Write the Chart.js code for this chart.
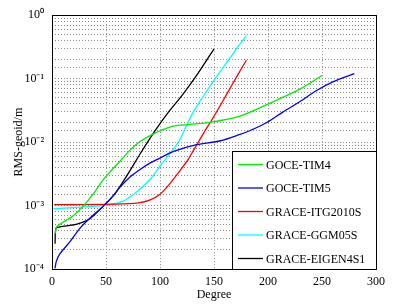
<!DOCTYPE html>
<html>
<head>
<meta charset="utf-8">
<script src="https://cdn.jsdelivr.net/npm/chart.js@4.4.0/dist/chart.umd.min.js"></script>
<style>
  html, body { margin: 0; padding: 0; background: #fff; }
  #wrap { width: 404px; height: 306px; }
</style>
</head>
<body>
<div id="wrap"><canvas id="grafico"></canvas></div>
<script>
// valores (grado, RMS en m)
const tim4Grado = [3, 4.3, 10.5, 19.7, 29, 38, 49, 63, 72, 81.5, 94, 112, 128, 146, 174, 199, 215, 230, 250];
const tim4Rms = [3.6e-4, 4.6e-4, 5.5e-4, 6.9e-4, 9.8e-4, 1.51e-3, 2.75e-3, 5.0e-3, 7.4e-3, 1.02e-2, 1.35e-2, 1.78e-2, 1.9e-2, 2.04e-2, 2.57e-2, 3.9e-2, 5.2e-2, 6.9e-2, 0.112];

const tim5Grado = [2.8, 4, 7.4, 16.7, 26, 35, 47.5, 57, 63, 72, 81.5, 91, 100, 112, 134, 156, 174, 183, 199, 214, 230, 245, 260, 280];
const tim5Rms = [1.02e-4, 1.32e-4, 1.74e-4, 2.7e-4, 4.4e-4, 6.3e-4, 9.8e-4, 1.45e-3, 1.95e-3, 2.8e-3, 3.7e-3, 4.7e-3, 5.6e-3, 7.1e-3, 9.1e-3, 1.05e-2, 1.32e-2, 1.51e-2, 2.04e-2, 3.0e-2, 4.4e-2, 6.5e-2, 8.9e-2, 0.12];

const itgGrado = [2, 60, 80, 91, 100, 109, 118.5, 125, 131, 140, 149, 157, 165, 172, 180];
const itgRms = [1.035e-3, 1.05e-3, 1.1e-3, 1.23e-3, 1.51e-3, 2.2e-3, 3.55e-3, 5.0e-3, 7.4e-3, 1.35e-2, 2.4e-2, 4.1e-2, 7.1e-2, 0.115, 0.195];

const ggmGrado = [1.5, 29, 47, 63, 72, 81.5, 91, 100, 109, 118, 125, 131, 137, 149, 157, 165, 172, 180];
const ggmRms = [8.9e-4, 9.5e-4, 1.0e-3, 1.12e-3, 1.35e-3, 1.82e-3, 2.6e-3, 4.2e-3, 6.5e-3, 1.07e-2, 1.9e-2, 3.0e-2, 4.4e-2, 8.9e-2, 0.138, 0.214, 0.316, 0.48];

const eigenGrado = [2.8, 3.7, 7.4, 23, 35, 47.5, 57, 63, 72, 81.5, 95, 108, 121, 135, 150];
const eigenRms = [2.5e-4, 4.4e-4, 4.6e-4, 5.1e-4, 6.2e-4, 9.8e-4, 1.45e-3, 2.0e-3, 3.5e-3, 6.5e-3, 1.48e-2, 3.0e-2, 5.6e-2, 0.12, 0.295];

const nombres = ['GOCE-TIM4', 'GOCE-TIM5', 'GRACE-ITG2010S', 'GRACE-GGM05S', 'GRACE-EIGEN4S1'];
const colores = ['#00ee00', '#0000ff', '#ff0000', '#00ffff', '#000000'];
const etiquetasY = { 1: '10\u2070', 0.1: '10\u207B\u00B9', 0.01: '10\u207B\u00B2', 0.001: '10\u207B\u00B3', 0.0001: '10\u207B\u2074' };

const fuente = "'Liberation Serif', 'Times New Roman', serif";

function puntos(xs, ys) {
    return xs.map((x, i) => ({ x: x, y: ys[i] }));
}

const series = [
    puntos(tim4Grado, tim4Rms),
    puntos(tim5Grado, tim5Rms),
    puntos(itgGrado, itgRms),
    puntos(ggmGrado, ggmRms),
    puntos(eigenGrado, eigenRms)
];

// leyenda dentro del area, abajo a la derecha
const leyendaCaja = {
    id: 'leyendaCaja',
    afterDatasetsDraw(chart) {
        const ctx = chart.ctx;
        const area = chart.chartArea;
        const w = 144, h = 118;
        const x0 = Math.round(area.right) - w, y0 = Math.round(area.bottom) - h;
        ctx.save();
        ctx.fillStyle = '#fff';
        ctx.fillRect(x0, y0, w, h);
        ctx.strokeStyle = '#000';
        ctx.lineWidth = 1;
        ctx.strokeRect(x0 + 0.5, y0 + 0.5, w, h);
        ctx.font = '12px ' + fuente;
        ctx.textBaseline = 'middle';
        chart.data.datasets.forEach((ds, i) => {
            const y = y0 + 13.5 + i * 23.5;
            ctx.strokeStyle = ds.borderColor;
            ctx.lineWidth = 1.3;
            ctx.beginPath();
            ctx.moveTo(x0 + 6, y);
            ctx.lineTo(x0 + 31, y);
            ctx.stroke();
            ctx.fillStyle = '#000';
            ctx.fillText(ds.label, x0 + 34, y + 1);
        });
        ctx.restore();
    }
};

new Chart(document.getElementById('grafico'), {
    type: 'line',
    data: {
        datasets: series.map((d, i) => ({
            label: nombres[i],
            data: d,
            borderColor: colores[i],
            backgroundColor: colores[i],
            borderWidth: 1.3,
            pointRadius: 0,
            tension: 0.3,
            fill: false
        }))
    },
    options: {
        responsive: true,
        maintainAspectRatio: false,
        animation: false,
        layout: { padding: { top: 13, right: 28, left: 0, bottom: 4 } },
        plugins: {
            legend: { display: false },
            tooltip: { enabled: false }
        },
        scales: {
            x: {
                type: 'linear',
                min: 0,
                max: 300,
                ticks: {
                    stepSize: 50,
                    color: '#000',
                    font: { family: fuente, size: 12 },
                    padding: 6
                },
                grid: {
                    color: '#8a8a8a',
                    drawTicks: false
                },
                border: { display: false, dash: [1, 2] },
                title: {
                    display: true,
                    text: 'Degree',
                    color: '#000',
                    font: { family: fuente, size: 12 },
                    padding: { top: 0, bottom: 0 }
                },
                afterFit(scale) { scale.height = 33; }
            },
            y: {
                type: 'logarithmic',
                min: 1e-4,
                max: 1,
                ticks: {
                    color: '#000',
                    font: { family: fuente, size: 12 },
                    padding: 8,
                    autoSkip: false,
                    callback: function(v) {
                        return etiquetasY[v] !== undefined ? etiquetasY[v] : '';
                    }
                },
                grid: {
                    color: '#8a8a8a',
                    drawTicks: false
                },
                border: { display: false, dash: [1, 2] },
                title: {
                    display: true,
                    text: 'RMS-geoid/m',
                    color: '#000',
                    font: { family: fuente, size: 12 },
                    padding: { top: 12, bottom: 0 }
                },
                afterFit(scale) { scale.width = 52; }
            }
        }
    },
    plugins: [leyendaCaja, {
        id: 'marco',
        afterDraw(chart) {
            const a = chart.chartArea;
            const ctx = chart.ctx;
            ctx.save();
            ctx.strokeStyle = '#000';
            ctx.lineWidth = 1;
            ctx.strokeRect(Math.round(a.left) + 0.5, Math.round(a.top) + 0.5, Math.round(a.right - a.left), Math.round(a.bottom - a.top));
            ctx.restore();
        }
    }]
});
</script>
</body>
</html>
